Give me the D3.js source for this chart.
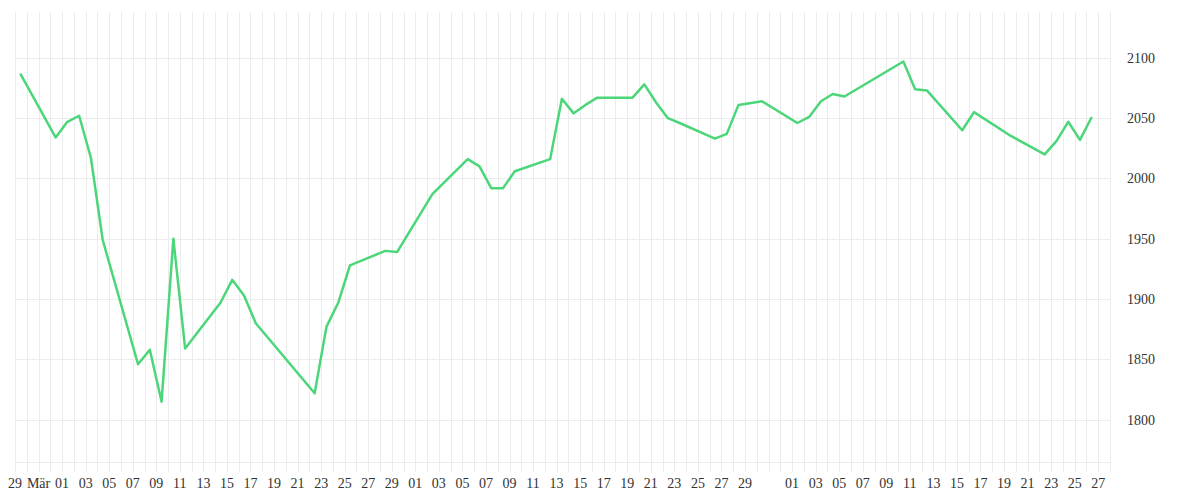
<!DOCTYPE html>
<html>
<head>
<meta charset="utf-8">
<script src="https://cdn.jsdelivr.net/npm/d3@7"></script>
<style>
  body { margin: 0; background: #fff; }
  text { font-family: "Liberation Serif", "DejaVu Serif", serif; fill: #333; }
</style>
</head>
<body>
<svg id="chart" width="1200" height="500"></svg>
<script>
// day index of each point (0 = first day) and its value
var days = [0, 3, 4, 5, 6, 7, 10, 11, 12, 13, 14, 17, 18, 19, 20, 25, 26, 27, 28, 31, 32, 35, 38, 39, 40, 41, 42,
	45, 46, 47, 48, 49, 52, 53, 54, 55, 56, 59, 60, 61, 63, 66, 67, 68, 69, 70, 75, 76, 77, 80, 81, 84, 87, 88, 89, 90, 91];
var values = [2087, 2034, 2047, 2052, 2017, 1949, 1846, 1858, 1815, 1950, 1859, 1897, 1916, 1903, 1880, 1822, 1877, 1897, 1928,
	1940, 1939, 1987, 2016, 2010, 1992, 1992, 2006, 2016, 2066, 2054, 2061, 2067, 2067, 2078, 2063, 2050, 2046, 2033, 2037,
	2061, 2064, 2046, 2051, 2064, 2070, 2068, 2097, 2074, 2073, 2040, 2055, 2036, 2020, 2031, 2047, 2032, 2051];
var tickLabels = ["29", "Mär", "01", "03", "05", "07", "09", "11", "13", "15", "17", "19", "21", "23", "25", "27", "29",
	"01", "03", "05", "07", "09", "11", "13", "15", "17", "19", "21", "23", "25", "27", "29", "",
	"01", "03", "05", "07", "09", "11", "13", "15", "17", "19", "21", "23", "25", "27"];
var yTicks = [1800, 1850, 1900, 1950, 2000, 2050, 2100];

var svg = d3.select("#chart"),
	plotLeft = 15, plotRight = 1110, plotTop = 12, plotBottom = 462;

// gridlines sit on day boundaries, points in the middle of a day
var x = d3.scaleLinear().domain([0, 93]).range([plotLeft, plotRight]);
var y = d3.scaleLinear().domain([1765, 2138]).range([plotBottom, plotTop]);

var grid = svg.append("g").attr("stroke", "#ececec").attr("stroke-width", 1);

grid.selectAll("line.v")
	.data(d3.range(0, 94))
	.enter().append("line")
	.attr("x1", function (d) { return Math.round(x(d)) + 0.5; })
	.attr("x2", function (d) { return Math.round(x(d)) + 0.5; })
	.attr("y1", plotTop).attr("y2", plotBottom + 10);

grid.selectAll("line.h")
	.data(yTicks.concat([1765]))
	.enter().append("line")
	.attr("x1", plotLeft).attr("x2", plotRight)
	.attr("y1", function (d) { return Math.round(y(d)) + 0.5; })
	.attr("y2", function (d) { return Math.round(y(d)) + 0.5; });

var yAxis = svg.append("g")
	.attr("transform", "translate(" + (plotRight + 17) + ",0)")
	.call(d3.axisRight(y).tickValues(yTicks).tickFormat(d3.format("d")).tickSize(0).tickPadding(0));
yAxis.select(".domain").remove();
yAxis.selectAll("text").style("font-size", "14px").style("font-family", "Liberation Serif, serif");

svg.append("g").selectAll("text")
	.data(tickLabels)
	.enter().append("text")
	.attr("x", function (d, i) { return x(i * 2); })
	.attr("y", 488)
	.attr("text-anchor", "middle")
	.style("font-size", "14px")
	.text(function (d) { return d; });

var pts = days.map(function (d, i) { return [d, values[i]]; });
var line = d3.line()
	.x(function (d) { return x(d[0] + 0.45); })
	.y(function (d) { return y(d[1]); });

svg.append("path")
	.datum(pts)
	.attr("d", line)
	.attr("fill", "none")
	.attr("stroke", "#4cd67a")
	.attr("stroke-width", 2.5)
	.attr("stroke-linejoin", "round");
</script>
</body>
</html>
